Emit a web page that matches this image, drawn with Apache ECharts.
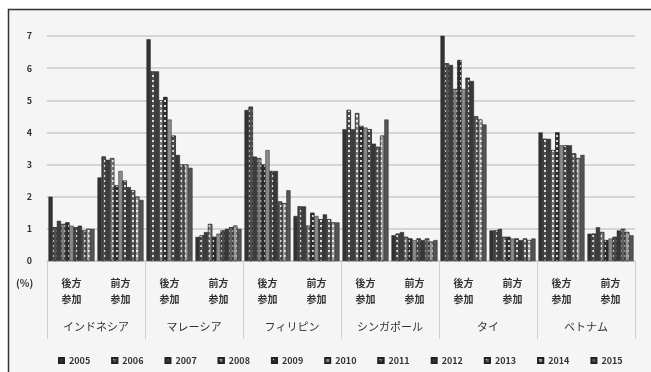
<!DOCTYPE html>
<html>
<head>
<meta charset="utf-8">
<script src="https://cdn.jsdelivr.net/npm/echarts@6/dist/echarts.min.js"></script>
<style>
  html, body { margin: 0; padding: 0; background: #fff; }
  #chart { width: 651px; height: 372px; }
</style>
</head>
<body>
<div id="chart"></div>
<script>
const countries = ['インドネシア', 'マレーシア', 'フィリピン', 'シンガポール', 'タイ', 'ベトナム'];
const subLabels = ['後方\n参加', '前方\n参加'];
const years = ['2005', '2006', '2007', '2008', '2009', '2010', '2011', '2012', '2013', '2014', '2015'];
const yTicks = [0, 1, 2, 3, 4, 5, 6, 7];

// values per year, 12 columns: each country backward then forward participation (%)
const v2005 = [2.0, 2.6, 6.9, 0.75, 4.7, 1.4, 4.1, 0.8, 7.1, 0.95, 4.0, 0.85];
const v2006 = [1.05, 3.25, 5.9, 0.8, 4.8, 1.7, 4.7, 0.85, 6.15, 0.95, 3.8, 0.85];
const v2007 = [1.25, 3.15, 5.9, 0.9, 3.25, 1.7, 4.1, 0.9, 6.1, 1.0, 3.8, 1.05];
const v2008 = [1.15, 3.2, 5.0, 1.15, 3.2, 1.1, 4.6, 0.75, 5.35, 0.75, 3.45, 0.9];
const v2009 = [1.2, 2.35, 5.1, 0.75, 3.0, 1.5, 4.2, 0.7, 6.25, 0.75, 4.0, 0.65];
const v2010 = [1.1, 2.8, 4.4, 0.85, 3.45, 1.4, 4.15, 0.65, 5.35, 0.7, 3.6, 0.7];
const v2011 = [1.05, 2.5, 3.9, 0.95, 2.8, 1.3, 4.1, 0.7, 5.7, 0.7, 3.6, 0.75];
const v2012 = [1.1, 2.3, 3.3, 1.0, 2.8, 1.45, 3.65, 0.65, 5.6, 0.65, 3.6, 0.95];
const v2013 = [0.95, 2.2, 3.0, 1.05, 1.85, 1.3, 3.55, 0.7, 4.5, 0.7, 3.35, 1.0];
const v2014 = [1.0, 2.0, 3.0, 1.1, 1.8, 1.2, 3.9, 0.6, 4.4, 0.65, 3.2, 0.9];
const v2015 = [1.0, 1.9, 2.9, 1.0, 2.2, 1.2, 4.4, 0.65, 4.25, 0.7, 3.3, 0.8];
const values = [v2005, v2006, v2007, v2008, v2009, v2010, v2011, v2012, v2013, v2014, v2015];

const subCats = countries.flatMap(() => subLabels);

// grayscale fill + white dot pattern, roughly like the printed original
const fills = ['#333', '#505050', '#3c3c3c', '#7a7a7a', '#2e2e2e', '#8c8c8c', '#4a4a4a', '#383838', '#606060', '#9a9a9a', '#555'];
const dotted = [false, true, false, true, true, false, true, false, true, true, false];

const cjk = '"Noto Sans CJK JP", "Noto Sans", sans-serif';

const chart = echarts.init(document.getElementById('chart'), null, { renderer: 'canvas' });

const dotDecal = {
  symbol: 'rect',
  symbolSize: 1,
  color: 'rgba(255,255,255,0.8)',
  dashArrayX: [2, 2],
  dashArrayY: [2, 3],
  rotation: 0
};

const series = years.map((y, i) => {
  const itemStyle = { color: fills[i], borderColor: '#222', borderWidth: 0.5 };
  if (dotted[i]) itemStyle.decal = Object.assign({}, dotDecal);
  return {
    name: y,
    type: 'bar',
    xAxisIndex: 0,
    data: values[i],
    barGap: '0%',
    barCategoryGap: '6%',
    itemStyle
  };
});

chart.setOption({
  backgroundColor: '#fff',
  animation: false,
  graphic: [
    { type: 'rect', shape: { x: 8.5, y: 9.5, width: 660, height: 380 }, style: { fill: '#f5f5f5', stroke: '#333', lineWidth: 1.5 }, z: -10 },
    { type: 'text', left: 16, top: 278, style: { text: '(%)', font: 'bold 10px ' + cjk, fill: '#333' } }
  ],
  legend: {
    data: years,
    left: 53,
    top: 351,
    itemWidth: 5,
    itemHeight: 5,
    itemGap: 21,
    icon: 'rect',
    textStyle: { fontSize: 9, fontWeight: 'bold', color: '#333', fontFamily: cjk }
  },
  grid: { left: 47, right: 16, top: 36, bottom: 111, containLabel: false },
  xAxis: [
    {
      type: 'category',
      data: subCats,
      position: 'bottom',
      axisLine: { show: true, lineStyle: { color: '#c8c8c8', width: 1 } },
      axisTick: { show: false },
      axisLabel: { interval: 0, margin: 14, fontSize: 10, lineHeight: 16, color: '#333', fontWeight: 'bold', fontFamily: cjk }
    },
    {
      type: 'category',
      data: countries,
      position: 'bottom',
      axisLine: { show: false },
      axisTick: { show: true, length: 78, interval: 0, lineStyle: { color: '#cfcfcf', width: 1 } },
      axisLabel: { interval: 0, margin: 60, fontSize: 11, color: '#333', fontFamily: cjk }
    }
  ],
  yAxis: {
    type: 'value',
    min: yTicks[0],
    max: yTicks[yTicks.length - 1],
    interval: 1,
    axisLine: { show: false },
    axisTick: { show: false },
    axisLabel: { fontSize: 9, fontWeight: 'bold', color: '#333', margin: 15, fontFamily: cjk },
    splitLine: { lineStyle: { color: '#cacaca', width: 1.5 } }
  },
  series
});
</script>
</body>
</html>
